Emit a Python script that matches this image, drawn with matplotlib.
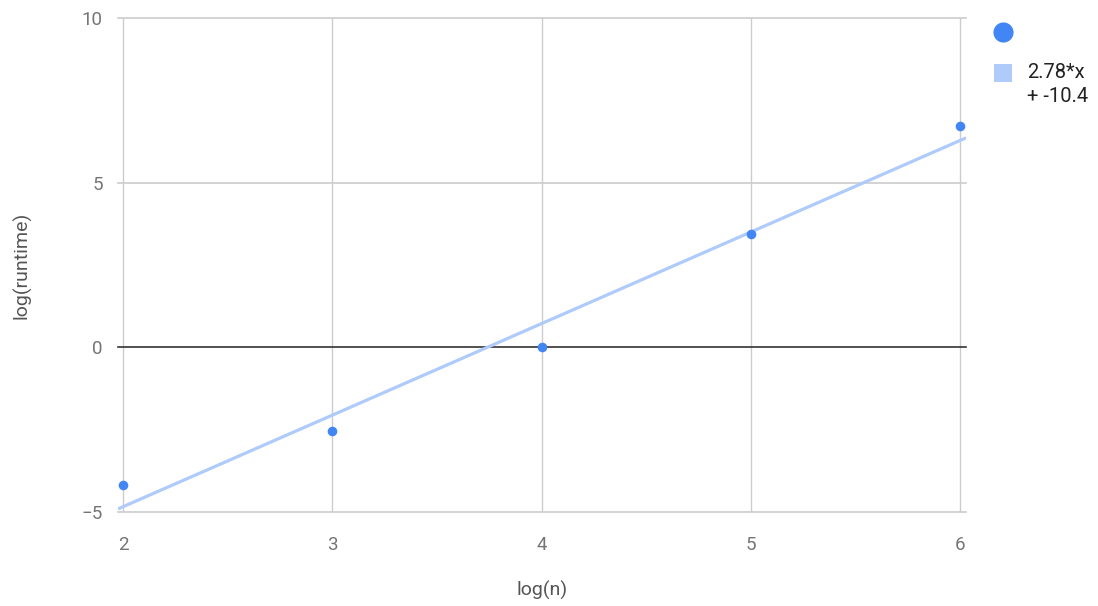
import matplotlib
matplotlib.use("Agg")
import matplotlib.pyplot as plt
from matplotlib.lines import Line2D

plt.rcParams["font.family"] = ["Roboto", "DejaVu Sans"]

log_n = [2, 3, 4, 5, 6]
log_runtime = [-4.18, -2.55, 0.0, 3.44, 6.72]
slope = 2.78
intercept = -10.4
x_ticks = [2, 3, 4, 5, 6]
y_ticks = [-5, 0, 5, 10]

POINT_COLOR = "#4285f4"
TREND_COLOR = "#aecbfa"
GRID_COLOR = "#cccccc"
TICK_COLOR = "#757575"
LABEL_COLOR = "#555555"

W, H = 1098, 606
fig = plt.figure(figsize=(W / 100, H / 100), dpi=100)
ax = fig.add_axes([118 / W, 94 / H, 848 / W, 494 / H])

xmin, xmax = 2 - 5 / 209.25, 6 + 6 / 209.25
ax.set_xlim(xmin, xmax)
ax.set_ylim(-5, 10)

for xt in x_ticks:
    ax.axvline(xt, color=GRID_COLOR, linewidth=1, zorder=0)
for yt in y_ticks:
    if yt == 0:
        ax.axhline(yt, color="#333333", linewidth=1.2, zorder=1, clip_on=False)
    else:
        ax.axhline(yt, color=GRID_COLOR, linewidth=1.2, zorder=0, clip_on=False)

# trend line across the whole plot width
tx = [xmin, xmax]
ty = [slope * v + intercept for v in tx]
ax.plot(tx, ty, color=TREND_COLOR, linewidth=2.3, zorder=2, solid_capstyle="butt")

ax.scatter(log_n, log_runtime, s=48, color=POINT_COLOR, zorder=3, linewidths=0, clip_on=False)

for s in ax.spines.values():
    s.set_visible(False)
ax.set_xticks(x_ticks)
ax.set_yticks(y_ticks)
ax.tick_params(length=0, labelsize=13.5, labelcolor=TICK_COLOR)
ax.tick_params(axis="x", pad=17)
ax.tick_params(axis="y", pad=11)

ax.set_xlabel("log(n)", fontsize=14, color=LABEL_COLOR, va="center")
ax.xaxis.set_label_coords(0.5, -(590 - 512) / 494)
ax.set_ylabel("log(runtime)", fontsize=14, color=LABEL_COLOR, va="center")
ax.yaxis.set_label_coords(-(118 - 22) / 848, 0.5)

# legend, placed in pixel positions
fig.add_artist(Line2D([1003 / W], [1 - 32 / H], marker="o", linestyle="none", markersize=14.5,
                      markerfacecolor=POINT_COLOR, markeredgewidth=0, transform=fig.transFigure))
fig.add_artist(Line2D([1003 / W], [1 - 73 / H], marker="s", linestyle="none", markersize=13,
                      markerfacecolor=TREND_COLOR, markeredgewidth=0, transform=fig.transFigure))
fig.text(1027 / W, 1 - 73 / H, f"{slope}*x", fontsize=14.5, color="#222222", va="center", ha="left")
fig.text(1027 / W, 1 - 97 / H, f"+ {intercept}", fontsize=14.5, color="#222222", va="center", ha="left")

fig.savefig("out.png", dpi=100)
